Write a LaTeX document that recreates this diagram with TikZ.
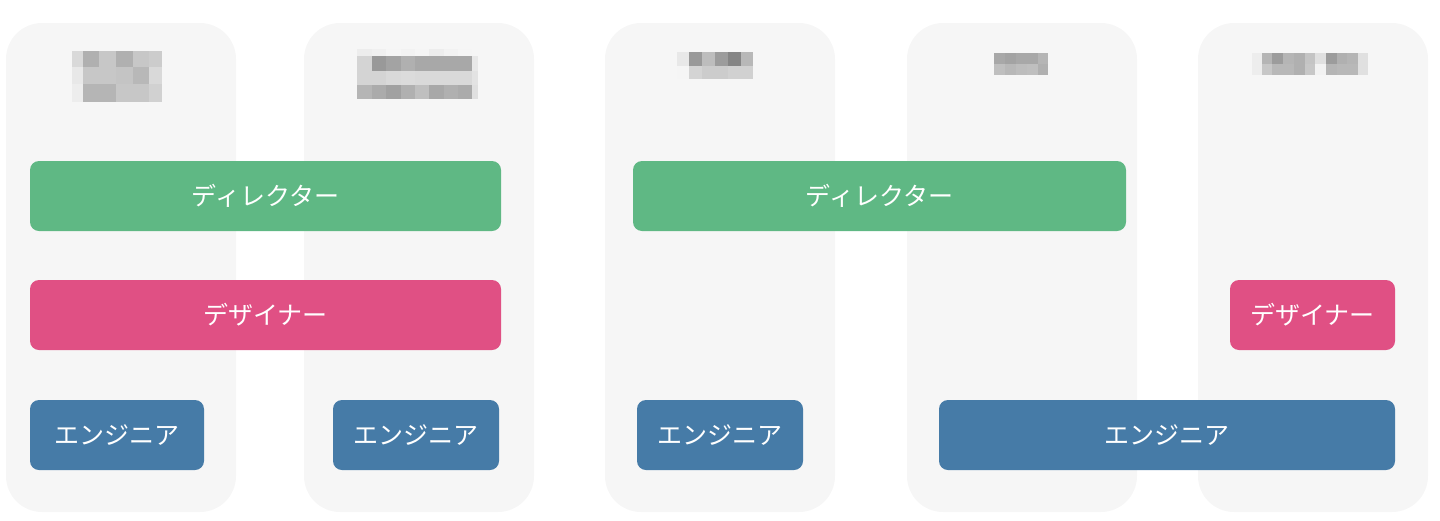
\documentclass[tikz,border=0pt]{standalone}
\usepackage{fontspec}
\newfontfamily\jp{Noto Sans CJK JP}
\definecolor{colbg}{HTML}{F6F6F6}
\definecolor{dirgreen}{HTML}{5FB884}
\definecolor{despink}{HTML}{E05084}
\definecolor{engblue}{HTML}{467BA7}
\tikzset{
  lane/.style={fill=colbg, draw=none, rounded corners=36pt, inner sep=0pt,
    minimum width=230pt, minimum height=489pt},
  role/.style={draw=none, rounded corners=9pt, inner sep=0pt, text=white,
    minimum height=70pt, font=\jp\fontsize{25}{27}\selectfont},
  director/.style={role, fill=dirgreen},
  designer/.style={role, fill=despink},
  engineer/.style={role, fill=engblue},
}
\newcommand\mosaicrow[3]{\foreach \a/\b/\g in {#3} {\fill[black!\g] (\a,#1) rectangle (\b,#2);}}
\begin{document}
\begin{tikzpicture}[x=1pt,y=-1pt]
\useasboundingbox (0,0) rectangle (1440,520);
% lanes
\node[lane] (c1) at (121,267.5) {};
\node[lane] (c2) at (419,267.5) {};
\node[lane] (c3) at (720,267.5) {};
\node[lane] (c4) at (1022,267.5) {};
\node[lane] (c5) at (1313,267.5) {};
% mosaics (blurred headings)
\mosaicrow{50.7}{67.3}{71.7/82.7/15, 82.7/99.3/31, 99.3/116/22, 116/132.7/31, 132.7/149.3/22, 149.3/161.7/20}
\mosaicrow{67.3}{84.3}{71.7/82.7/9, 82.7/99.3/22, 99.3/116/22, 116/132.7/23, 132.7/149.3/28, 149.3/161.7/15}
\mosaicrow{84.3}{101.7}{71.7/82.7/7, 82.7/99.3/29, 99.3/116/29, 116/132.7/22, 132.7/149.3/22, 149.3/161.7/18}
%
\mosaicrow{49}{56}{357.3/371.7/7, 371.7/386/6, 386/400.7/4, 400.7/415/5, 415/429.3/4, 429.3/444/7, 444/458.3/5, 458.3/471.7/4}
\mosaicrow{56}{71}{357.3/371.7/17, 371.7/386/40, 386/400.7/36, 400.7/415/31, 415/429.3/34, 429.3/444/34, 444/458.3/34, 458.3/471.7/34, 471.7/478.3/9}
\mosaicrow{71}{85}{357.3/371.7/17, 371.7/386/17, 386/400.7/15, 400.7/415/14, 415/429.3/15, 429.3/444/15, 444/458.3/15, 458.3/471.7/15, 471.7/478.3/11}
\mosaicrow{85}{99}{357.3/371.7/29, 371.7/386/33, 386/400.7/37, 400.7/415/31, 415/429.3/25, 429.3/444/34, 444/458.3/31, 458.3/471.7/33, 471.7/478.3/12}
%
\mosaicrow{52.3}{66}{676.7/689.3/9, 689.3/702.3/40, 702.3/715/26, 715/727.7/39, 727.7/740.7/48, 740.7/753.3/28}
\mosaicrow{66}{79}{676.7/689.3/4, 689.3/702.3/17, 702.3/715/20, 715/727.7/20, 727.7/740.7/18, 740.7/753.3/18}
%
\mosaicrow{53.3}{64.3}{994/1005/34, 1005/1016/36, 1016/1026.7/34, 1026.7/1037.7/34, 1037.7/1048.3/29}
\mosaicrow{64.3}{75}{994/1005/25, 1005/1016/28, 1016/1026.7/26, 1026.7/1037.7/25, 1037.7/1048.3/31}
%
\mosaicrow{53.3}{64}{1251.7/1261.7/7, 1261.7/1272.3/29, 1272.3/1283.3/39, 1283.3/1294/29, 1294/1305/31, 1305/1315/23, 1315/1326/12, 1326/1336.7/39, 1336.7/1347.3/31, 1347.3/1358.3/29, 1358.3/1368.3/12}
\mosaicrow{64}{75}{1251.7/1261.7/7, 1261.7/1272.3/22, 1272.3/1283.3/28, 1283.3/1294/28, 1294/1305/31, 1305/1315/22, 1315/1326/5, 1326/1336.7/29, 1336.7/1347.3/28, 1347.3/1358.3/28, 1358.3/1368.3/12}
% roles
\node[director, minimum width=471pt] (d1) at (265.5,196) {ディレクター};
\node[designer, minimum width=471pt] (g1) at (265.5,315) {デザイナー};
\node[engineer, minimum width=174pt] (e1) at (117,435) {エンジニア};
\node[engineer, minimum width=166pt] (e2) at (416,435) {エンジニア};
\node[director, minimum width=493pt] (d2) at (879.5,196) {ディレクター};
\node[engineer, minimum width=166pt] (e3) at (720,435) {エンジニア};
\node[designer, minimum width=165pt] (g2) at (1312.5,315) {デザイナー};
\node[engineer, minimum width=456pt] (e4) at (1167,435) {エンジニア};
\end{tikzpicture}
\end{document}
